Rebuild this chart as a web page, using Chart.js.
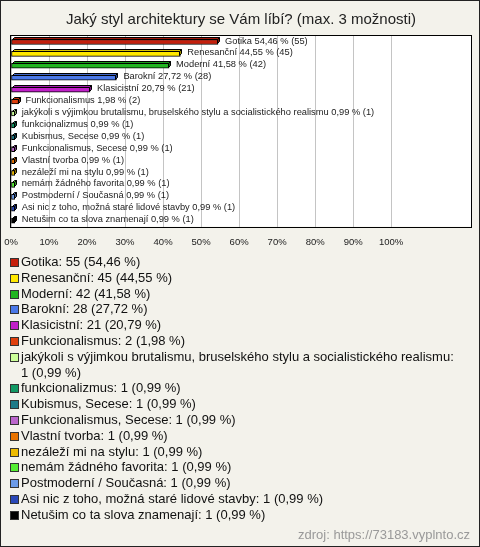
<!DOCTYPE html>
<html>
<head>
<meta charset="utf-8">
<script src="https://cdn.jsdelivr.net/npm/chart.js@4/dist/chart.umd.min.js"></script>
<style>
  html, body { margin: 0; padding: 0; }
  body { width: 480px; height: 547px; background: #f3f2eb; position: relative; overflow: hidden; font-family: "Liberation Sans", Arial, sans-serif; }
  #frame { position: absolute; left: 0; top: 0; width: 478px; height: 545px; border: 1px solid #222; pointer-events: none; }
  #wrap { position: absolute; left: 0; top: 0; width: 480px; height: 260px; }
  #legend { position: absolute; left: 10px; top: 254px; width: 451px; font-size: 13px; line-height: 15.8px; color: #111; }
  .item { display: flex; align-items: flex-start; }
  .box { flex: 0 0 auto; width: 7px; height: 7px; border: 1px solid #333; margin: 4px 2px 0 0; }
  #src { position: absolute; right: 10px; top: 527px; font-size: 13px; color: #999; }
</style>
</head>
<body>
<div id="wrap"><canvas id="c"></canvas></div>
<div id="legend"></div>
<div id="src">zdroj: https://73183.vyplnto.cz</div>
<div id="frame"></div>
<script>
const TITLE = "Jaký styl architektury se Vám líbí? (max. 3 možnosti)";
const categories = [
  "Gotika",
  "Renesanční",
  "Moderní",
  "Barokní",
  "Klasicistní",
  "Funkcionalismus",
  "jakýkoli s výjimkou brutalismu, bruselského stylu a socialistického realismu",
  "funkcionalizmus",
  "Kubismus, Secese",
  "Funkcionalismus, Secese",
  "Vlastní tvorba",
  "nezáleží mi na stylu",
  "nemám žádného favorita",
  "Postmoderní / Současná",
  "Asi nic z toho, možná staré lidové stavby",
  "Netušim co ta slova znamenají"
];
const counts = [55, 45, 42, 28, 21, 2, 1, 1, 1, 1, 1, 1, 1, 1, 1, 1];
const percents = [54.46, 44.55, 41.58, 27.72, 20.79, 1.98, 0.99, 0.99, 0.99, 0.99, 0.99, 0.99, 0.99, 0.99, 0.99, 0.99];
const tickValues = [0, 10, 20, 30, 40, 50, 60, 70, 80, 90, 100];
const colors = ["#c41f0c", "#ffe800", "#21b521", "#4a78e8", "#c020c8", "#e0400e", "#ccff99", "#119964", "#1f7a88", "#bb66cc", "#e87300", "#eebb00", "#55ee33", "#6c9be8", "#2a48b8", "#000000"];

const fmt = v => v.toFixed(2).replace('.', ',');

function shade(hex, f) {
  const n = parseInt(hex.slice(1), 16);
  const r = Math.round(((n >> 16) & 255) * f), g = Math.round(((n >> 8) & 255) * f), b = Math.round((n & 255) * f);
  return `rgb(${r},${g},${b})`;
}

const boxPlugin = {
  id: 'box',
  beforeDraw(chart) {
    const a = chart.chartArea, ctx = chart.ctx;
    ctx.save();
    ctx.fillStyle = '#ffffff';
    ctx.fillRect(a.left - 1, a.top, a.right - a.left + 1, a.bottom - a.top);
    ctx.restore();
  },
  afterDatasetsDraw(chart) {
    const a = chart.chartArea, ctx = chart.ctx;
    const meta = chart.getDatasetMeta(0);
    const D = 2;
    ctx.save();
    ctx.lineWidth = 1;
    ctx.strokeStyle = '#000';
    meta.data.forEach((el, i) => {
      const p = el.getProps(['x', 'y', 'base', 'height'], true);
      const l = Math.round(p.base) + 0.5, r = Math.round(p.x) - 0.5;
      const t = Math.round(p.y - p.height / 2) + 0.5, b = Math.round(p.y + p.height / 2) - 0.5;
      ctx.fillStyle = shade(colors[i], 0.85);
      ctx.beginPath();
      ctx.moveTo(l, t); ctx.lineTo(l + D, t - D); ctx.lineTo(r + D, t - D); ctx.lineTo(r, t); ctx.closePath();
      ctx.fill(); ctx.stroke();
      ctx.fillStyle = shade(colors[i], 0.6);
      ctx.beginPath();
      ctx.moveTo(r, t); ctx.lineTo(r + D, t - D); ctx.lineTo(r + D, b - D); ctx.lineTo(r, b); ctx.closePath();
      ctx.fill(); ctx.stroke();
      ctx.fillStyle = '#222';
      ctx.font = '9.3px "Liberation Sans", Arial, sans-serif';
      ctx.textBaseline = 'middle';
      ctx.textAlign = 'left';
      ctx.fillText(`${categories[i]} ${fmt(percents[i])} % (${counts[i]})`, p.x + 7, p.y - 1);
    });
    ctx.strokeStyle = '#000';
    ctx.strokeRect(Math.round(a.left) - 0.5, Math.round(a.top) - 0.5, Math.round(a.right - a.left) + 1, Math.round(a.bottom - a.top) + 1);
    ctx.restore();
  }
};

new Chart(document.getElementById('c'), {
  type: 'bar',
  data: {
    labels: categories,
    datasets: [{
      data: percents,
      backgroundColor: colors,
      borderColor: '#000',
      borderWidth: 1,
      borderSkipped: false,
      barThickness: 5
    }]
  },
  options: {
    indexAxis: 'y',
    responsive: true,
    maintainAspectRatio: false,
    animation: false,
    layout: { padding: { left: 11, right: 9, top: 0, bottom: 2 } },
    plugins: {
      legend: { display: false },
      tooltip: { enabled: false },
      title: {
        display: true,
        text: TITLE,
        color: '#222',
        font: { family: '"Liberation Sans", Arial, sans-serif', size: 15, weight: 'normal' },
        padding: { top: 11, bottom: 7 }
      }
    },
    scales: {
      x: {
        type: 'linear',
        min: 0,
        max: 121,
        afterBuildTicks(axis) { axis.ticks = tickValues.map(v => ({ value: v })); },
        afterFit(axis) { axis.paddingLeft = 0; axis.paddingRight = 0; },
        grid: { color: '#c4c4c4', drawTicks: false, lineWidth: 1 },
        border: { display: false },
        ticks: {
          padding: 10,
          color: '#222',
          font: { family: '"Liberation Sans", Arial, sans-serif', size: 9.5 },
          callback: v => v + '%'
        }
      },
      y: {
        display: false,
        grid: { display: false }
      }
    }
  },
  plugins: [boxPlugin]
});

const leg = document.getElementById('legend');
categories.forEach((c, i) => {
  const it = document.createElement('div');
  it.className = 'item';
  const bx = document.createElement('span');
  bx.className = 'box';
  bx.style.background = colors[i];
  const tx = document.createElement('span');
  tx.textContent = `${c}: ${counts[i]} (${fmt(percents[i])} %)`;
  it.appendChild(bx); it.appendChild(tx);
  leg.appendChild(it);
});
</script>
</body>
</html>
